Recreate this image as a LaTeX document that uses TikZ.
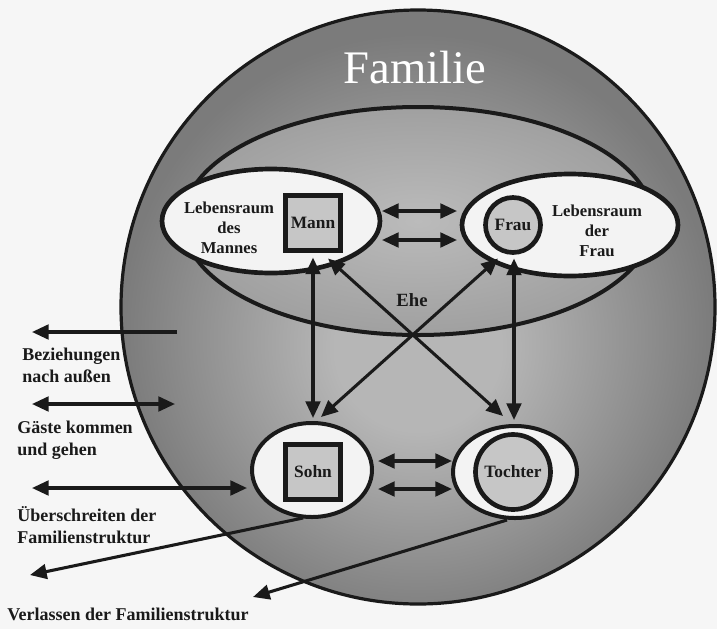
\documentclass[tikz,border=0pt]{standalone}
\usepackage{fontspec}
\setmainfont{Liberation Serif}
\usetikzlibrary{shapes.geometric,arrows.meta}

\definecolor{ink}{HTML}{1A1A1A}
\definecolor{paper}{HTML}{F6F6F6}
\definecolor{roomwhite}{HTML}{F3F3F3}
\definecolor{figgray}{HTML}{C6C6C6}
\definecolor{famhi}{HTML}{B6B6B6}
\definecolor{famlo}{HTML}{7B7B7B}
\definecolor{ehehi}{HTML}{BBBBBB}
\definecolor{ehelo}{HTML}{A0A0A0}

% soft grey fill of the family disc, lightest a little below its centre
\pgfdeclareradialshading{famshade}{\pgfpoint{0bp}{-4bp}}{%
  color(0bp)=(famhi); color(7bp)=(famhi); color(25bp)=(famlo); color(50bp)=(famlo)}
% fill of the marriage ellipse
\pgfdeclareradialshading{eheshade}{\pgfpoint{0bp}{0bp}}{%
  color(0bp)=(ehehi); color(25bp)=(ehelo); color(50bp)=(ehelo)}

\begin{document}
\begin{tikzpicture}[x=0.75pt,y=-0.75pt,
  outline/.style={draw=ink, outer sep=0pt, inner sep=0pt},
  room/.style={outline, ellipse, fill=roomwhite, line width=3.5pt},
  childroom/.style={outline, ellipse, fill=roomwhite, line width=3pt},
  malebox/.style={outline, rectangle, fill=figgray, line width=3.75pt, minimum size=41.25pt},
  femalering/.style={outline, circle, fill=figgray, line width=3.5pt},
  tipshape/.tip={Triangle[length=12.5pt,width=11pt]},
  link/.style={draw=ink, line width=2.3pt, tipshape-tipshape},
  leave/.style={draw=ink, line width=2.3pt, -tipshape},
  inlabel/.style={font=\bfseries\fontsize{13}{15}\selectfont, text=ink, inner sep=0pt, align=center},
  roomlabel/.style={font=\bfseries\fontsize{12.5}{15}\selectfont, text=ink, inner sep=0pt, align=center},
  sidelabel/.style={font=\bfseries\fontsize{13.5}{16.5}\selectfont, text=ink, inner sep=0pt, align=left, anchor=north west}
]
\fill[paper] (0,0) rectangle (717,629);
\useasboundingbox (0,0) rectangle (717,629);

% the family as a whole
\node[outline, circle, line width=2.4pt, shading=famshade, minimum size=445.5pt] (fam) at (418,307) {};
\node[text=white, font=\fontsize{35}{40}\selectfont, inner sep=0pt] (famtitle) at (415,68) {Familie};

% marriage
\node[outline, ellipse, line width=3pt, shading=eheshade, minimum width=352.5pt, minimum height=171pt] (ehe) at (418,221) {};
\node[inlabel, font=\bfseries\fontsize{14}{16}\selectfont] (ehetext) at (412,300) {Ehe};

% living spaces of husband and wife
\node[room, minimum width=163.5pt, minimum height=78pt] (lrm) at (271,221) {};
\node[room, minimum width=162pt, minimum height=76.5pt] (lrf) at (570,225) {};
\node[roomlabel] (lrmtext) at (229,228) {Lebensraum\\des\\Mannes};
\node[roomlabel] (lrftext) at (597,231) {Lebensraum\\der\\Frau};

\node[malebox] (mann) at (313,223) {};
\node[inlabel] at (mann) {Mann};
\node[femalering, minimum size=41.25pt] (frau) at (513,225) {};
\node[inlabel] at (frau) {Frau};

% children
\node[childroom, minimum width=90pt, minimum height=70.5pt] (sohnell) at (312,470) {};
\node[malebox] (sohn) at (313,472) {};
\node[inlabel] at (sohn) {Sohn};
\node[childroom, minimum width=93pt, minimum height=69pt] (tochell) at (515,472) {};
\node[femalering, minimum size=56.25pt] (tochter) at (513,472) {};
\node[inlabel] at (tochter) {Tochter};

% relations inside the family
\draw[link] ([shift={(2,-10)}]lrm.east) -- ([shift={(-5,-14)}]lrf.west);
\draw[link] ([shift={(2,19)}]lrm.east) -- ([shift={(-5,15)}]lrf.west);
\draw[link] ([shift={(6,-9)}]sohnell.east) -- ([shift={(-1,-11)}]tochell.west);
\draw[link] ([shift={(6,19)}]sohnell.east) -- ([shift={(-1,17)}]tochell.west);

\draw[link] ([shift={(0,7)}]mann.south) -- ([shift={(1,-5)}]sohnell.north);
\draw[link] ([shift={(1,6)}]frau.south) -- ([shift={(-1,-6)}]tochell.north);
\draw[link] ([shift={(15,8)}]mann.south) -- ([shift={(-12,-10)}]tochell.north);
\draw[link] ([shift={(-15,6)}]frau.south) -- ([shift={(9,-6)}]sohnell.north);

% relations across the boundary
\coordinate (bzin) at (177,332);
\coordinate (bzout) at (32,332);
\coordinate (gain) at (175,404);
\coordinate (gaout) at (32,404);
\coordinate (ueout) at (32,488);
\coordinate (vsout) at (30,575);
\coordinate (vtout) at (253,597);

\draw[leave] (bzin) -- (bzout);
\draw[link] (gaout) -- (gain);
\draw[link] (ueout) -- ([shift={(-5,18)}]sohnell.west);
\draw[leave] ([shift={(-9,1)}]sohnell.south) -- (vsout);
\draw[leave] ([shift={(-8,2)}]tochell.south) -- (vtout);

\node[sidelabel] (bztext) at (22,348) {Beziehungen\\nach außen};
\node[sidelabel] (gatext) at (17,421) {Gäste kommen\\und gehen};
\node[sidelabel] (uetext) at (17,506) {Überschreiten der\\Familienstruktur};
\node[sidelabel] (vltext) at (7,608) {Verlassen der Familienstruktur};
\end{tikzpicture}
\end{document}
